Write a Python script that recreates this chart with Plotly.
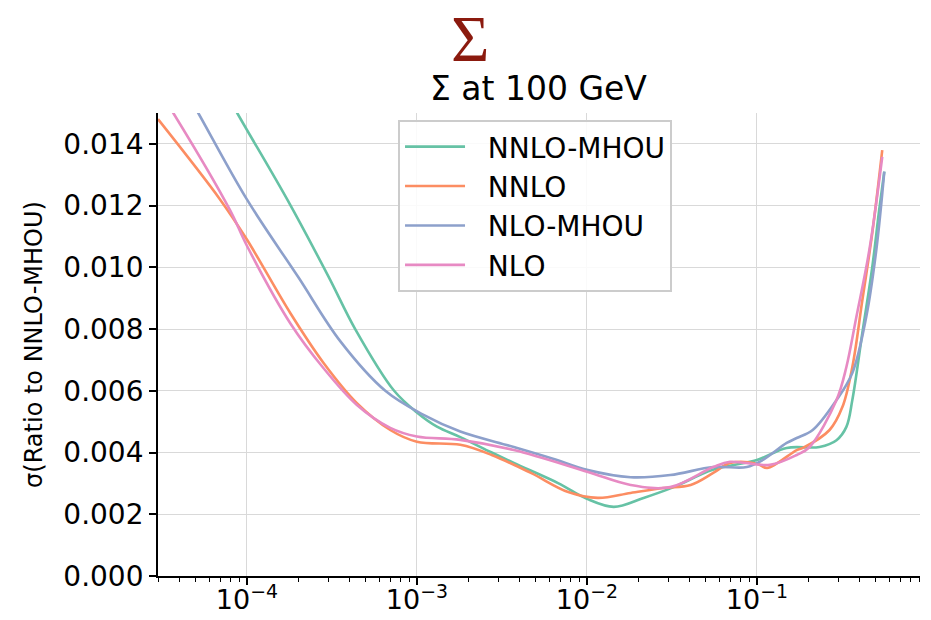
import numpy as np
import plotly.graph_objects as go

# Relative PDF uncertainty of the singlet Sigma at Q = 100 GeV, per fit.
# x positions are stored as log10(x).
nnlo_mhou_log10x = [-4.25, -4.057, -3.763, -3.52, -3.363, -3.134, -3.0, -2.882, -2.745,
                    -2.56, -2.43, -2.17, -2.0, -1.842, -1.667, -1.49, -1.26, -1.0, -0.825,
                    -0.632, -0.532, -0.474, -0.439, -0.380, -0.322, -0.281, -0.251]
nnlo_mhou_sigma = [0.0169, 0.0150, 0.0122, 0.0097, 0.0080, 0.0060, 0.0053, 0.00484, 0.00450,
                   0.0040, 0.00366, 0.00301, 0.00250, 0.00224, 0.00253, 0.00288, 0.00344, 0.00376, 0.00415,
                   0.00418, 0.0044, 0.00483, 0.0057, 0.00788, 0.0100, 0.01186, 0.0131]

nnlo_log10x = [-4.523, -4.158, -4.0, -3.745, -3.549, -3.353, -3.157, -3.0, -2.745, -2.56,
               -2.33, -2.11, -1.936, -1.743, -1.55, -1.39, -1.257, -1.158, -1.0, -0.94,
               -0.766, -0.73, -0.573, -0.497, -0.439, -0.38, -0.322, -0.263]
nnlo_sigma = [0.0148, 0.0122, 0.0109, 0.00852, 0.0069, 0.0056, 0.00473, 0.00435, 0.00425, 0.00392,
              0.00334, 0.00272, 0.00253, 0.00269, 0.00285, 0.00295, 0.00334, 0.00366, 0.00364, 0.0035,
              0.00408, 0.00415, 0.00473, 0.00548, 0.00677, 0.00894, 0.0111, 0.0138]

nlo_mhou_log10x = [-4.40, -4.286, -4.0, -3.70, -3.45, -3.186, -2.961, -2.745, -2.43,
                   -2.2, -1.994, -1.743, -1.51, -1.257, -1.06, -0.965, -0.825, -0.766, -0.672,
                   -0.532, -0.439, -0.357, -0.298, -0.251]
nlo_mhou_sigma = [0.0161, 0.0150, 0.0122, 0.0097, 0.0076, 0.0060, 0.00522, 0.00468, 0.00418,
                  0.0038, 0.00343, 0.0032, 0.00327, 0.00353, 0.00353, 0.00376, 0.00431, 0.00447, 0.00473,
                  0.0057, 0.00658, 0.0084, 0.01056, 0.0131]

nlo_log10x = [-4.55, -4.433, -4.1, -4.0, -3.745, -3.549, -3.353, -3.157, -3.0, -2.745,
              -2.43, -1.994, -1.743, -1.51, -1.257, -1.158, -0.924, -0.766, -0.69, -0.532,
              -0.474, -0.415, -0.339, -0.263]
nlo_sigma = [0.0160, 0.0150, 0.01186, 0.0107, 0.00819, 0.00673, 0.00554, 0.0048, 0.00452, 0.00441,
             0.00408, 0.00337, 0.00295, 0.00288, 0.00353, 0.0037, 0.0036, 0.00392, 0.00418, 0.0057,
             0.00677, 0.0084, 0.01056, 0.01358]

series_names = ["NNLO-MHOU", "NNLO", "NLO-MHOU", "NLO"]
series_colors = ["#66c2a5", "#fc8d62", "#8da0cb", "#e78ac3"]
series_x = [nnlo_mhou_log10x, nnlo_log10x, nlo_mhou_log10x, nlo_log10x]
series_y = [nnlo_mhou_sigma, nnlo_sigma, nlo_mhou_sigma, nlo_sigma]

y_ticks = [0.000, 0.002, 0.004, 0.006, 0.008, 0.010, 0.012, 0.014]
x_decades = [-4, -3, -2, -1]
x_tick_labels = ["10<sup>\u22124</sup>", "10<sup>\u22123</sup>", "10<sup>\u22122</sup>", "10<sup>\u22121</sup>"]

x_major = [10.0 ** d for d in x_decades]
x_minor = [m * 10.0 ** d for d in [-5, -4, -3, -2, -1] for m in range(2, 10)]

fig = go.Figure()
for name, color, lx, ys in zip(series_names, series_colors, series_x, series_y):
    fig.add_trace(go.Scatter(
        x=np.power(10.0, lx), y=ys, name="  " + name, mode="lines",
        line=dict(color=color, width=2.6, shape="spline", smoothing=1.0),
    ))

axis_font = dict(family="DejaVu Sans", size=28, color="black")

fig.update_layout(
    width=931, height=620,
    margin=dict(l=158, r=11, t=113, b=44),
    paper_bgcolor="white", plot_bgcolor="white",
    showlegend=True,
    legend=dict(
        x=0.315, y=0.985, xanchor="left", yanchor="top",
        font=dict(family="DejaVu Sans", size=28, color="black"),
        bgcolor="rgba(255,255,255,0.85)", bordercolor="#cccccc", borderwidth=2,
        itemwidth=60,
    ),
    xaxis=dict(
        type="log", range=[np.log10(3e-5), np.log10(0.91)],
        tickvals=x_major, ticktext=x_tick_labels,
        ticks="outside", ticklen=7, tickwidth=1.6, tickcolor="black",
        minor=dict(tickvals=x_minor, ticks="outside", ticklen=4, tickwidth=1.2,
                   tickcolor="black", showgrid=False),
        showline=True, linecolor="black", linewidth=1.8, mirror=False,
        showgrid=True, gridcolor="#d9d9d9", gridwidth=1,
        tickfont=dict(family="DejaVu Sans", size=27, color="black"),
        ticklabelstandoff=-8,
        zeroline=False, automargin=False,
    ),
    yaxis=dict(
        range=[0, 0.015], tickvals=y_ticks, tickformat=".3f",
        ticks="outside", ticklen=7, tickwidth=1.6, tickcolor="black",
        showline=True, linecolor="black", linewidth=1.8, mirror=False,
        showgrid=True, gridcolor="#d9d9d9", gridwidth=1,
        tickfont=axis_font, zeroline=False, automargin=False,
        title=dict(text="σ(Ratio to NNLO-MHOU)", font=dict(family="DejaVu Sans", size=24, color="black"),
                   standoff=14),
    ),
    annotations=[
        dict(text="Σ", xref="paper", yref="paper", x=(470 - 158) / 762, y=1.0 + (113 - 38) / 463,
             xanchor="center", yanchor="middle", showarrow=False,
             font=dict(family="Liberation Serif", size=66, color="#8b1a0e")),
        dict(text="Σ at 100 GeV", xref="paper", yref="paper", x=(538 - 158) / 762, y=1.0 + (113 - 88) / 463,
             xanchor="center", yanchor="middle", showarrow=False,
             font=dict(family="DejaVu Sans", size=33, color="black")),
    ],
)

fig.write_html("out.html")
